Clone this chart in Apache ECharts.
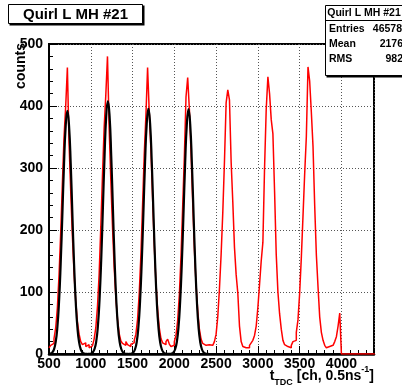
<!DOCTYPE html>
<html>
<head>
<meta charset="utf-8">
<script src="https://cdn.jsdelivr.net/npm/echarts@6/dist/echarts.min.js"></script>
<style>
html,body{margin:0;padding:0;background:#fff;}
#chart{width:402px;height:392px;}
</style>
</head>
<body>
<div id="chart"></div>
<script>
// ---- data ----
const histTitle = 'Quirl L MH #21';
const statLabels = ['Entries', 'Mean', 'RMS'];
const statValues = ['46578', '2176', '982'];
const xTicks = [500, 1000, 1500, 2000, 2500, 3000, 3500, 4000];
const yTicks = [0, 100, 200, 300, 400, 500];
const binStart = 500;
const binWidth = 20;
// counts per 20-channel bin, starting at 500
const counts = [
  10, 14, 17, 25, 42, 74, 127, 195, 275, 350,
  400, 462, 340, 262, 190, 130, 85, 52, 32, 20,
  15, 18, 12, 15, 10, 13, 16, 24, 42, 76,
  128, 205, 288, 365, 418, 480, 365, 280, 205, 140,
  92, 56, 33, 21, 17, 14, 20, 15, 12, 16,
  18, 22, 32, 56, 98, 160, 240, 322, 385, 462,
  390, 330, 250, 175, 115, 72, 42, 25, 18, 15,
  20, 24, 16, 12, 14, 20, 30, 54, 95, 158,
  238, 318, 415, 446, 395, 325, 245, 170, 112, 70,
  40, 24, 17, 14, 12, 15, 12, 14, 16, 20,
  32, 60, 105, 160, 228, 310, 405, 426, 410, 310,
  245, 172, 128, 98, 45, 20, 12, 10, 12, 10,
  14, 18, 22, 30, 45, 75, 112, 150, 180, 300,
  395, 447, 420, 378, 355, 262, 160, 100, 65, 40,
  22, 15, 12, 15, 10, 14, 20, 22, 35, 55,
  98, 155, 222, 290, 350, 463, 440, 390, 335, 240,
  160, 108, 60, 35, 22, 14, 10, 12, 10, 14,
  12, 20, 28, 45, 66, 0, 0, 0, 0, 0,
  0, 0, 0, 0, 0, 0, 0, 0, 0, 0,
  0, 0, 0, 0, 0
];
// Gaussian fit curves (black)
const fit1X = [500,520,540,560,580,600,620,640,660,680,700,720,740,760,780,800,820,840,860,880,900,920,940,960];
const fit1Y = [0.23,0.82,2.7,7.6,19.2,42.7,84,146,225,307,368,392,368,307,225,146,84,42.7,19.2,7.6,2.7,0.82,0.23,0.05];
const fit2X = [965,985,1005,1025,1045,1065,1085,1105,1125,1145,1165,1185,1205,1225,1245,1265,1285,1305,1325,1345,1365,1385,1405,1425,1445];
const fit2Y = [0.06,0.24,0.86,2.8,8.0,20,44.5,88,152,235,319,384,408,384,319,235,152,88,44.5,20,8.0,2.8,0.86,0.24,0.06];
const fit3X = [1450,1470,1490,1510,1530,1550,1570,1590,1610,1630,1650,1670,1690,1710,1730,1750,1770,1790,1810,1830,1850,1870,1890,1910,1930];
const fit3Y = [0.06,0.23,0.83,2.7,7.7,19.4,43.2,85,148,228,310,372,396,372,310,228,148,85,43.2,19.4,7.7,2.7,0.83,0.23,0.06];
const fit4X = [1930,1950,1970,1990,2010,2030,2050,2070,2090,2110,2130,2150,2170,2190,2210,2230,2250,2270,2290,2310,2330,2350,2370,2390,2410];
const fit4Y = [0.06,0.23,0.83,2.7,7.7,19.4,43,85,147,227,309,371,395,371,309,227,147,85,43,19.4,7.7,2.7,0.83,0.23,0.06];

// ---- build ----
const histData = counts.map((c, i) => [binStart + i * binWidth, c]);
histData.push([binStart + counts.length * binWidth, counts[counts.length - 1]]);
const pair = (xs, ys) => xs.map((x, i) => [x, ys[i]]);

const FONT = 'Liberation Sans, Arial, Helvetica, sans-serif';
const chart = echarts.init(document.getElementById('chart'), null, {renderer: 'canvas'});

const xMin = xTicks[0], xMax = 4390, yMin = yTicks[0], yMax = yTicks[yTicks.length - 1];
const plain = v => String(v);

const fitSeries = [[fit1X, fit1Y], [fit2X, fit2Y], [fit3X, fit3Y], [fit4X, fit4Y]].map(([xs, ys]) => ({
  type: 'line', data: pair(xs, ys), showSymbol: false, symbol: 'none', smooth: true,
  lineStyle: {color: '#000', width: 2.2}, z: 5, clip: true
}));

chart.setOption({
  animation: false,
  backgroundColor: '#fff',
  grid: {left: 49, top: 44, width: 325, height: 310, show: true, borderColor: '#000', borderWidth: 2, backgroundColor: '#fff'},
  xAxis: [{
    type: 'value', min: xMin, max: xMax, interval: 500,
    axisLine: {show: true, lineStyle: {color: '#000', width: 2.5}},
    axisTick: {show: true, inside: true, length: 8, lineStyle: {color: '#000', width: 1}},
    minorTick: {show: false},
    axisLabel: {show: true, color: '#000', fontSize: 14, fontWeight: 'bold', fontFamily: FONT, margin: 3, showMaxLabel: false, showMinLabel: true, formatter: plain},
    splitLine: {show: true, lineStyle: {color: '#555', width: 1, type: [1, 2]}}
  }, {
    type: 'value', min: xMin, max: xMax, interval: 100, position: 'bottom', offset: 0,
    axisLine: {show: false},
    axisTick: {show: true, inside: true, length: 4, lineStyle: {color: '#000', width: 1}},
    axisLabel: {show: false},
    splitLine: {show: false}
  }],
  yAxis: {
    type: 'value', min: yMin, max: yMax, interval: 100,
    axisLine: {show: true, lineStyle: {color: '#000', width: 2}},
    axisTick: {show: true, inside: true, length: 8, lineStyle: {color: '#000', width: 1}},
    minorTick: {show: true, splitNumber: 5, length: 4, lineStyle: {color: '#000', width: 1}},
    axisLabel: {show: true, color: '#000', fontSize: 14, fontWeight: 'bold', fontFamily: FONT, margin: 6, formatter: plain},
    splitLine: {show: true, lineStyle: {color: '#555', width: 1, type: [1, 2]}}
  },
  series: [{
    type: 'line', data: histData, step: 'end', showSymbol: false, symbol: 'none',
    lineStyle: {color: '#ff0000', width: 1.5}, z: 3, clip: true
  }].concat(fitSeries),
  graphic: [
    // title box
    {type: 'rect', shape: {x: 9.5, y: 5.5, width: 135, height: 20}, style: {fill: '#000'}, z: 10},
    {type: 'rect', shape: {x: 8.5, y: 4.5, width: 134, height: 19}, style: {fill: '#fff', stroke: '#000', lineWidth: 1}, z: 11},
    {type: 'text', x: 75.5, y: 14.5, z: 12, style: {text: histTitle, align: 'center', verticalAlign: 'middle', fontSize: 15, fontWeight: 'bold', fontFamily: FONT, fill: '#000'}},
    // stats box
    {type: 'rect', shape: {x: 326.5, y: 6.5, width: 90, height: 71}, style: {fill: '#000'}, z: 10},
    {type: 'rect', shape: {x: 325.5, y: 5.5, width: 90, height: 70}, style: {fill: '#fff', stroke: '#000', lineWidth: 1}, z: 11},
    {type: 'line', shape: {x1: 325.5, y1: 20.5, x2: 410, y2: 20.5}, style: {stroke: '#000', lineWidth: 1}, z: 12},
    {type: 'text', x: 364, y: 13, z: 12, style: {text: histTitle, align: 'center', verticalAlign: 'middle', fontSize: 10.5, fontWeight: 'bold', fontFamily: FONT, fill: '#000'}},
    {type: 'text', x: 329, y: 29.5, z: 12, style: {text: statLabels[0], align: 'left', verticalAlign: 'middle', fontSize: 10.5, fontWeight: 'bold', fontFamily: FONT, fill: '#000'}},
    {type: 'text', x: 402, y: 29.5, z: 12, style: {text: statValues[0], align: 'right', verticalAlign: 'middle', fontSize: 10.5, fontWeight: 'bold', fontFamily: FONT, fill: '#000'}},
    {type: 'text', x: 329, y: 44.5, z: 12, style: {text: statLabels[1], align: 'left', verticalAlign: 'middle', fontSize: 10.5, fontWeight: 'bold', fontFamily: FONT, fill: '#000'}},
    {type: 'text', x: 403, y: 44.5, z: 12, style: {text: statValues[1], align: 'right', verticalAlign: 'middle', fontSize: 10.5, fontWeight: 'bold', fontFamily: FONT, fill: '#000'}},
    {type: 'text', x: 329, y: 59.5, z: 12, style: {text: statLabels[2], align: 'left', verticalAlign: 'middle', fontSize: 10.5, fontWeight: 'bold', fontFamily: FONT, fill: '#000'}},
    {type: 'text', x: 403, y: 59.5, z: 12, style: {text: statValues[2], align: 'right', verticalAlign: 'middle', fontSize: 10.5, fontWeight: 'bold', fontFamily: FONT, fill: '#000'}},
    // y axis title
    {type: 'text', x: 21, y: 43, rotation: Math.PI / 2, z: 12, style: {text: 'counts', align: 'right', verticalAlign: 'middle', fontSize: 14, fontWeight: 'bold', fontFamily: FONT, fill: '#000'}},
    // x axis title
    {type: 'text', x: 374, y: 376, z: 12, style: {
      text: '{m|t}{s|TDC}{m| [ch, 0.5ns}{p|-1}{m|]}', align: 'right', verticalAlign: 'middle',
      fontFamily: FONT, fontWeight: 'bold', fill: '#000',
      rich: {
        m: {fontSize: 14, fontWeight: 'bold', fontFamily: FONT, fill: '#000', lineHeight: 22, verticalAlign: 'middle'},
        s: {fontSize: 9, fontWeight: 'bold', fontFamily: FONT, fill: '#000', lineHeight: 22, verticalAlign: 'bottom'},
        p: {fontSize: 9, fontWeight: 'bold', fontFamily: FONT, fill: '#000', lineHeight: 22, verticalAlign: 'top'}
      }
    }}
  ]
});
</script>
</body>
</html>
